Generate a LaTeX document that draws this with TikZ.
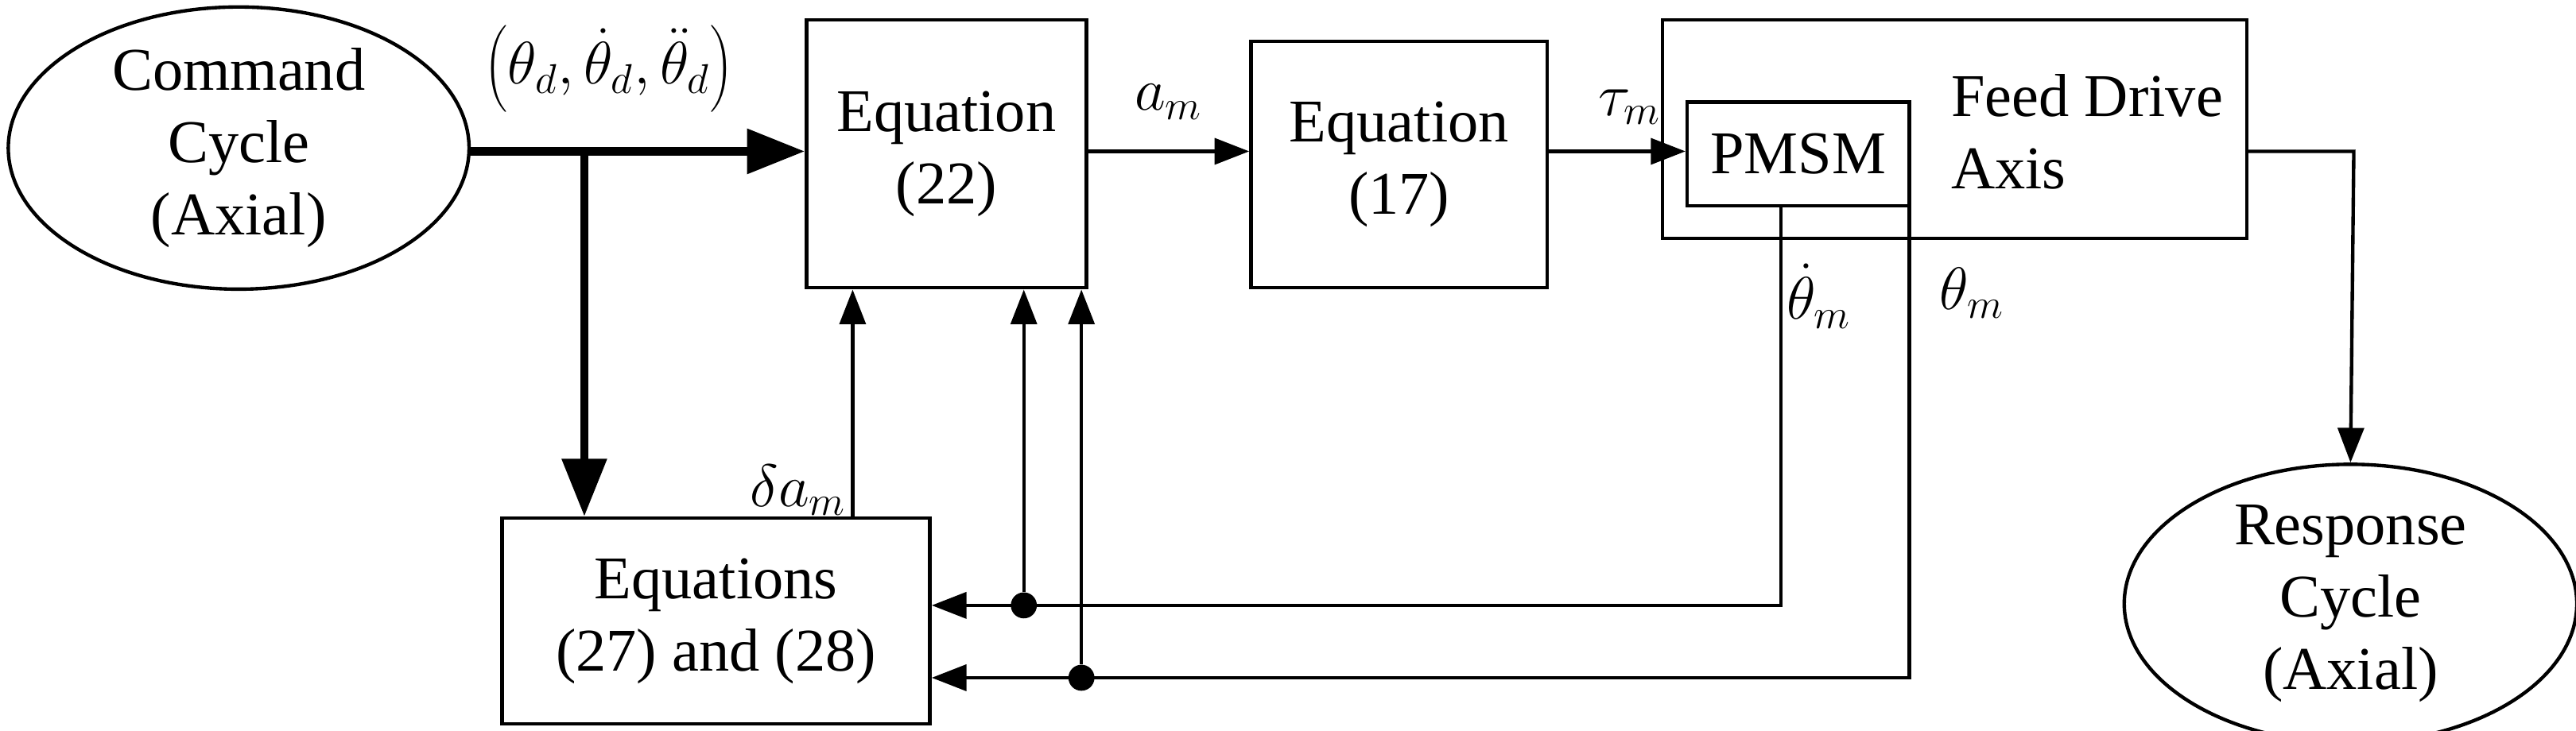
\documentclass[tikz,border=0pt]{standalone}
\usepackage{fontspec}
\setmainfont{Liberation Serif}
\usetikzlibrary{shapes.geometric,arrows.meta}
\begin{document}
\begin{tikzpicture}[x=0.02cm,y=-0.02cm,
  font=\fontsize{21}{25}\selectfont,
  box/.style={draw,line width=1.2pt,inner sep=0pt,align=center},
  ell/.style={draw,ellipse,line width=1.2pt,inner sep=0pt,align=center},
  ar/.style={line width=1.2pt,-{Triangle[length=12pt,width=9pt]}},
  thick arr/.style={line width=3pt,-{Triangle[length=20pt,width=15pt]}},
  dot/.style={circle,fill,inner sep=0pt,minimum size=9pt}]
\useasboundingbox (0,0) rectangle (1565,444);
\node[ell,minimum width=5.6cm,minimum height=3.4cm] (cmd) at (145,90) {Command\\Cycle\\(Axial)};
\node (th) at (370,42) {$\left(\theta_d,\dot\theta_d,\ddot\theta_d\right)$};
\node[box,minimum width=3.4cm,minimum height=3.26cm] (e22) at (575,93.5) {Equation\\(22)};
\node[box,minimum width=3.6cm,minimum height=3cm] (e17) at (850,100) {Equation\\(17)};
\node[box,minimum width=7.1cm,minimum height=2.66cm] (fd) at (1187.5,78.5) {};
\node[box,minimum width=2.7cm,minimum height=1.26cm] (pm) at (1092.5,93.5) {PMSM};
\node[align=left] (fdt) at (1268,80) {Feed Drive\\Axis};
\node[box,minimum width=5.2cm,minimum height=2.5cm] (e27) at (435,377.5) {Equations\\(27) and (28)};
\node[ell,minimum width=5.5cm,minimum height=2.75cm] (resp) at (1428,367) {Response\\Cycle\\(Axial)};
\coordinate (b) at (355,92);
\draw[thick arr] (cmd.east|-b) -- (e22.west|-b);
\draw[thick arr] (b) -- (e27.north-|b);
\node (am) at (710,62) {$a_m$};
\node (tm) at (990,65) {$\tau_m$};
\draw[ar] (e22.east|-b) -- (e17.west|-b);
\draw[ar] (e17.east|-b) -- (pm.west|-b);
\coordinate (o) at (1430,92);
\draw[ar] (fd.east|-o) -- (o) -- (resp.north);
\node (da) at (485,298) {$\delta a_m$};
\draw[ar] (e27.north-|518,0) -- (e22.south-|518,0);
\coordinate (r1) at (1082,368);
\coordinate (r2) at (1160,412);
\node[dot] (d1) at (622,368) {};
\node[dot] (d2) at (657,412) {};
\draw[ar] (pm.south-|r1) -- (r1) -- (e27.east|-r1);
\draw[ar] (pm.south-|r2) -- (r2) -- (e27.east|-r2);
\draw[ar] (d1) -- (e22.south-|d1);
\draw[ar] (d2) -- (e22.south-|d2);
\node (tdm) at (1105,180) {$\dot\theta_m$};
\node (thm) at (1198,178) {$\theta_m$};
\end{tikzpicture}
\end{document}
